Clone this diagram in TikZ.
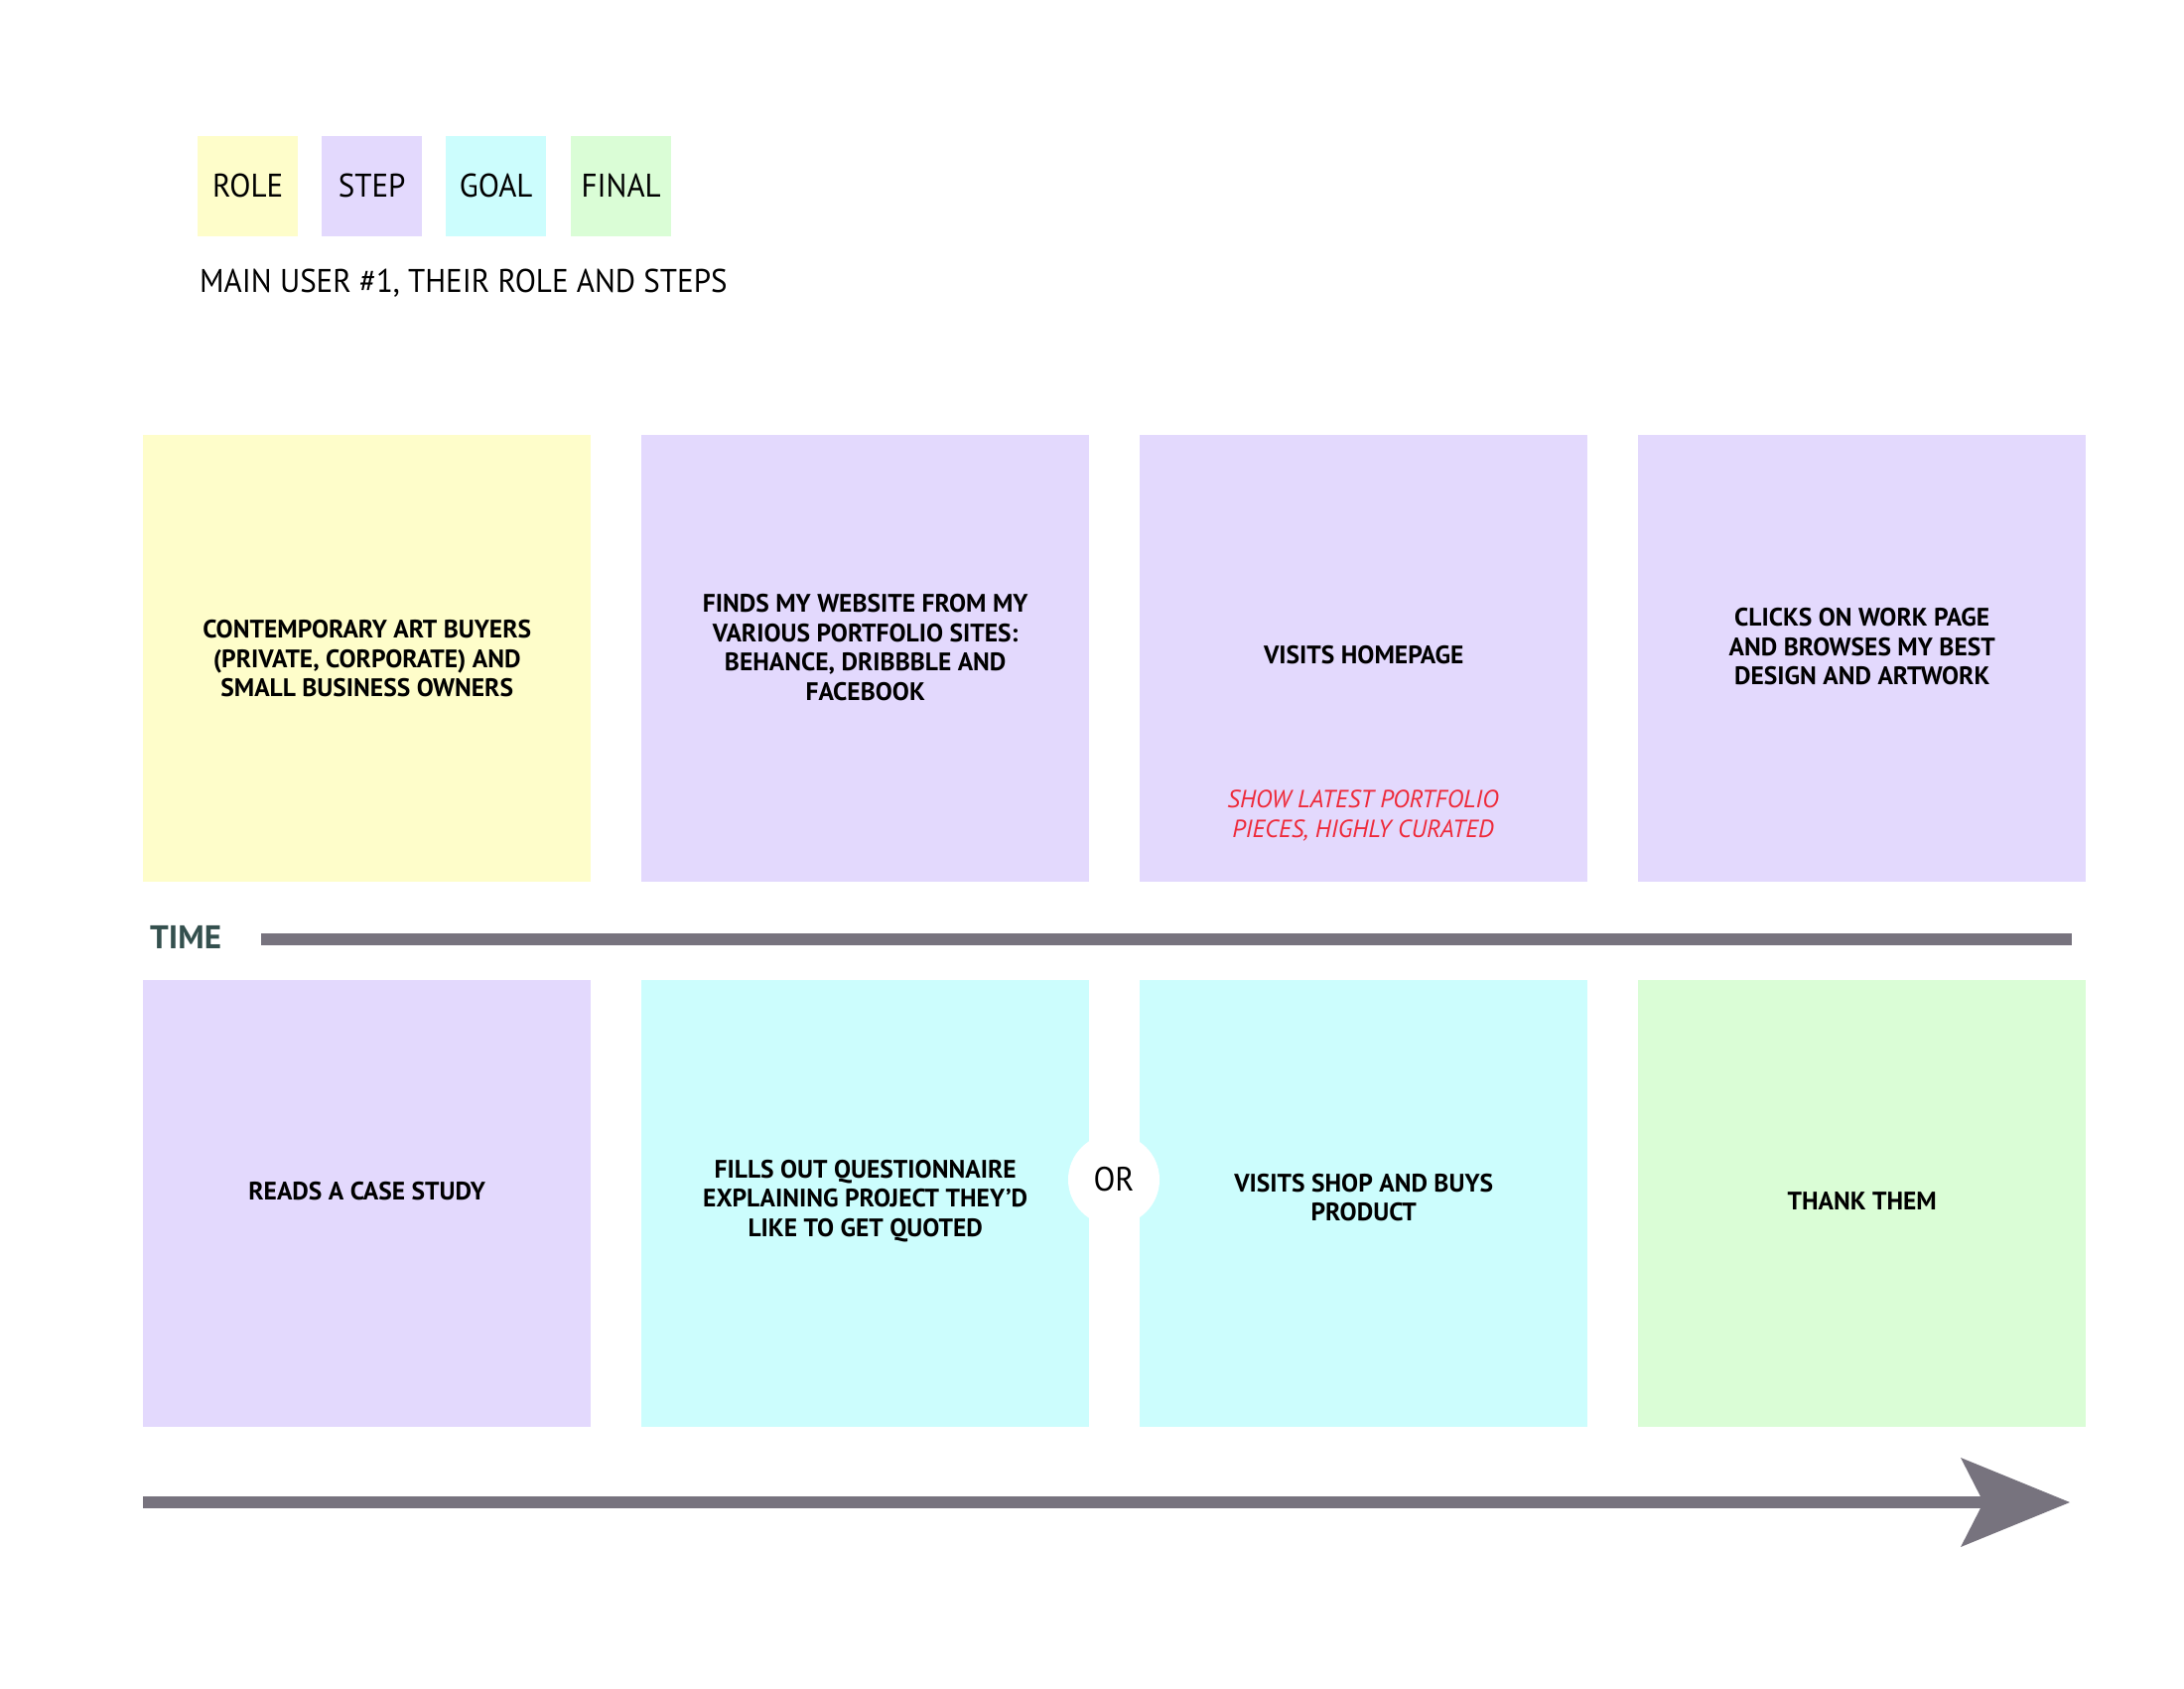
\documentclass[tikz,border=0pt]{standalone}
\usepackage{fontspec}
\setmainfont{PT Sans}
\newfontfamily\boxfont{PT Sans}[FakeStretch=1.0]
\newfontfamily\lightfont{PT Sans}[FakeStretch=0.94]
\definecolor{roleC}{HTML}{FEFDCA}
\definecolor{stepC}{HTML}{E3D9FD}
\definecolor{goalC}{HTML}{CCFDFD}
\definecolor{finalC}{HTML}{DAFDD6}
\definecolor{lineC}{HTML}{77737E}
\definecolor{timeC}{HTML}{34504E}
\definecolor{noteC}{HTML}{EE2A3A}
\begin{document}
\begin{tikzpicture}[x=1pt,y=-1pt,
  card/.style={draw=none,minimum width=451pt,minimum height=450pt,inner sep=0pt,anchor=north west},
  chip/.style={draw=none,minimum width=101pt,minimum height=101pt,inner sep=0pt,anchor=north west},
  chiptext/.style={font=\lightfont\fontsize{33}{36}\selectfont,inner sep=0pt},
  cardtext/.style={font=\boxfont\bfseries\fontsize{25.5}{29.5}\selectfont,align=center,inner sep=0pt},
  notetext/.style={font=\boxfont\itshape\fontsize{25}{30}\selectfont,align=center,inner sep=0pt,text=noteC},
  timeline/.style={line width=12pt,draw=lineC}
]
\useasboundingbox (0,0) rectangle (2200,1700);
\fill[white] (0,0) rectangle (2200,1700);
% legend
\node[chip,fill=roleC] (lrole) at (199,137) {};
\node[chip,fill=stepC] (lstep) at (324,137) {};
\node[chip,fill=goalC] (lgoal) at (449,137) {};
\node[chip,fill=finalC] (lfinal) at (575,137) {};
\node[chiptext] (trole) at ([yshift=1pt]lrole.center) {ROLE};
\node[chiptext] (tstep) at ([yshift=1pt]lstep.center) {STEP};
\node[chiptext] (tgoal) at ([yshift=1pt]lgoal.center) {GOAL};
\node[chiptext] (tfinal) at ([yshift=1pt]lfinal.center) {FINAL};
\node[chiptext,anchor=base west] (title) at (201,294) {MAIN USER \#1, THEIR ROLE AND STEPS};
% top row
\node[card,fill=roleC] (b1) at (144,438) {};
\node[card,fill=stepC] (b2) at (646,438) {};
\node[card,fill=stepC] (b3) at (1148,438) {};
\node[card,fill=stepC] (b4) at (1650,438) {};
\node[cardtext] (t1) at (b1.center) {CONTEMPORARY ART BUYERS\\(PRIVATE, CORPORATE) AND\\SMALL BUSINESS OWNERS};
\node[cardtext] (t2) at ([yshift=11pt]b2.center) {FINDS MY WEBSITE FROM MY\\VARIOUS PORTFOLIO SITES:\\BEHANCE, DRIBBBLE AND\\FACEBOOK};
\node[cardtext] (t3) at ([yshift=4pt]b3.center) {VISITS HOMEPAGE};
\node[notetext] (n3) at (1373,821) {SHOW LATEST PORTFOLIO\\PIECES, HIGHLY CURATED};
\node[cardtext] (t4) at ([yshift=12pt]b4.center) {CLICKS ON WORK PAGE\\AND BROWSES MY BEST\\DESIGN AND ARTWORK};
% time line
\node[font=\bfseries\fontsize{33}{36}\selectfont,text=timeC,anchor=west,inner sep=0pt] (time) at (151,944) {TIME};
\coordinate (tl1) at (263,946);
\coordinate (tl2) at (2087,946);
\draw[timeline] (tl1) -- (tl2);
% bottom row
\node[card,fill=stepC] (c1) at (144,987) {};
\node[card,fill=goalC] (c2) at (646,987) {};
\node[card,fill=goalC] (c3) at (1148,987) {};
\node[card,fill=finalC] (c4) at (1650,987) {};
\node[cardtext] (u1) at ([yshift=13pt]c1.center) {READS A CASE STUDY};
\node[cardtext] (u2) at ([yshift=3pt]c2.center) {FILLS OUT QUESTIONNAIRE\\EXPLAINING PROJECT THEY’D\\LIKE TO GET QUOTED};
\node[cardtext] (u3) at ([yshift=6pt]c3.center) {VISITS SHOP AND BUYS\\PRODUCT};
\node[cardtext] (u4) at ([yshift=3pt]c4.center) {THANK THEM};
% OR
\node[circle,fill=white,minimum size=92pt,inner sep=0pt] (orc) at (1122,1188) {};
\node[font=\lightfont\fontsize{34}{36}\selectfont,inner sep=0pt] (ort) at (orc.center) {OR};
% bottom arrow
\coordinate (a1) at (144,1513);
\coordinate (a2) at (1998,1513);
\coordinate (tip) at (2085,1513);
\draw[line width=12pt,draw=lineC] (a1) -- (a2);
\fill[lineC] (tip) -- (1975,1468) -- (a2) -- (1975,1558) -- cycle;
\end{tikzpicture}
\end{document}
